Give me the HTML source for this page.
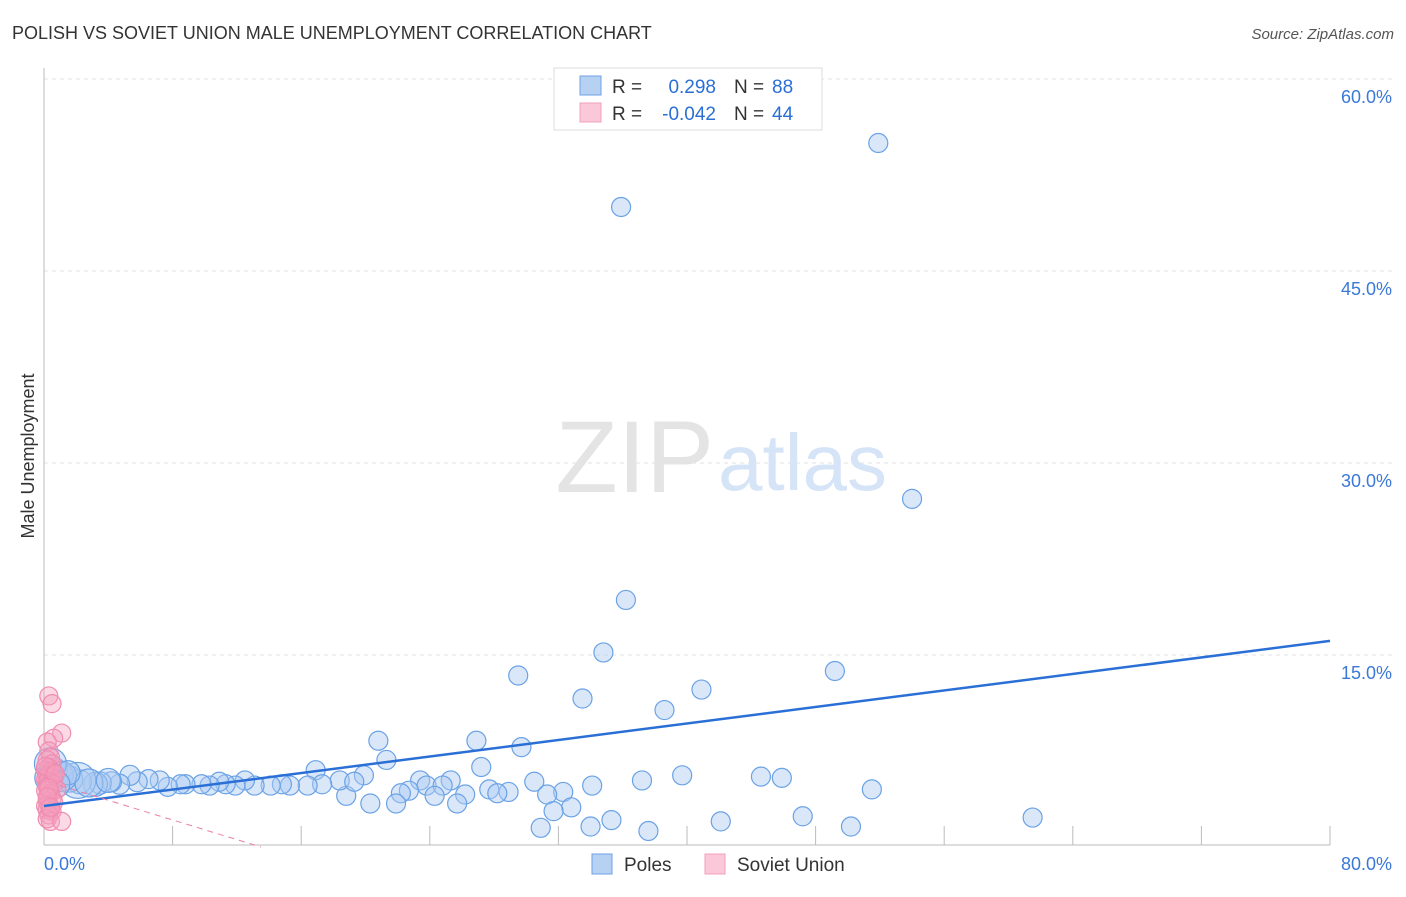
<!DOCTYPE html>
<html><head><meta charset="utf-8"><style>
body{margin:0;background:#fff;font-family:"Liberation Sans",sans-serif;}
svg text{font-family:"Liberation Sans",sans-serif;}
</style></head><body>
<svg width="1406" height="892" viewBox="0 0 1406 892">
<text x="12" y="39" font-size="18" fill="#333">POLISH VS SOVIET UNION MALE UNEMPLOYMENT CORRELATION CHART</text>
<text x="1394" y="39" font-size="15" fill="#555" text-anchor="end" font-style="italic">Source: ZipAtlas.com</text>
<g id="grid"></g>
<text x="714" y="492" font-size="102" fill="#e4e4e4" text-anchor="end" font-family="Liberation Serif">ZIP</text>
<text x="718" y="490" font-size="80" fill="#d6e4f7">atlas</text>
<g id="axes"></g>
<g id="pts"></g>
<g id="lines"></g>
<text transform="translate(34,456) rotate(-90)" font-size="18" fill="#333" text-anchor="middle">Male Unemployment</text>
<g>
<rect x="554" y="68" width="268" height="62" fill="#fff" stroke="#ddd"/>
<rect x="580" y="76" width="21" height="19" fill="#b7d1f3" stroke="#6fa2e4"/>
<rect x="580" y="103" width="21" height="19" fill="#fac8d8" stroke="#f0a0ba"/>
<text x="612" y="93" font-size="19" fill="#333">R =</text><text x="716" y="93" font-size="19" fill="#2a6fd6" text-anchor="end">0.298</text>
<text x="734" y="93" font-size="19" fill="#333">N =</text><text x="772" y="93" font-size="19" fill="#2a6fd6">88</text>
<text x="612" y="120" font-size="19" fill="#333">R =</text><text x="716" y="120" font-size="19" fill="#2a6fd6" text-anchor="end">-0.042</text>
<text x="734" y="120" font-size="19" fill="#333">N =</text><text x="772" y="120" font-size="19" fill="#2a6fd6">44</text>
</g>
<g>
<rect x="592" y="854" width="20" height="20" fill="#b7d1f3" stroke="#6fa2e4"/>
<text x="624" y="871" font-size="19" fill="#333">Poles</text>
<rect x="705" y="854" width="20" height="20" fill="#fac8d8" stroke="#f0a0ba"/>
<text x="737" y="871" font-size="19" fill="#333">Soviet Union</text>
</g>
</svg>
<script>
const yTicks=[15,30,45,60];
const yTickLabels=["15.0%","30.0%","45.0%","60.0%"];
const xTickLabels=["0.0%","80.0%"];
const polesX=[51.9,35.9,54.0,36.2,34.8,29.5,49.2,33.5,40.9,38.6,20.8,26.9,29.7,21.3,16.9,27.2,39.7,44.6,45.9,37.2,30.5,25.3,23.4,23.8,34.1,32.3,31.3,51.5,27.7,28.9,28.2,26.2,24.8,22.7,22.2,24.3,18.8,20.3,21.9,25.7,32.8,31.7,35.3,42.1,47.2,61.5,30.9,34.0,37.6,50.2,19.9,18.4,19.3,17.3,16.4,15.3,14.8,14.1,13.1,12.5,11.9,11.3,10.9,10.3,9.8,8.8,8.5,7.7,7.2,6.5,5.8,5.35,4.7,4.2,3.5,3.2,2.2,1.6,1.0,0.7,2.1,1.1,0.4,2.8,1.5,0.3,0.8,4.0];
const polesY=[55.0,50.0,27.2,19.3,15.2,13.4,13.75,11.6,12.3,10.7,8.3,8.3,7.8,6.8,6.0,6.25,5.6,5.5,5.4,5.2,5.1,5.2,5.2,4.8,4.8,4.3,4.1,4.5,4.5,4.3,4.2,4.1,4.8,4.4,4.2,4.0,4.0,3.4,3.4,3.4,3.1,2.8,2.1,2.0,2.4,2.3,1.5,1.6,1.25,1.6,5.6,5.2,5.1,4.9,4.8,4.8,4.9,4.8,4.8,5.2,4.8,4.9,5.1,4.8,4.9,4.9,4.9,4.7,5.2,5.3,5.1,5.6,4.9,5.1,5.0,4.9,5.1,5.3,5.6,6.0,5.2,5.5,6.5,5.0,5.8,5.4,4.9,5.2];
const polesR=[9.5,9.5,9.5,9.5,9.5,9.5,9.5,9.5,9.5,9.5,9.5,9.5,9.5,9.5,9.5,9.5,9.5,9.5,9.5,9.5,9.5,9.5,9.5,9.5,9.5,9.5,9.5,9.5,9.5,9.5,9.5,9.5,9.5,9.5,9.5,9.5,9.5,9.5,9.5,9.5,9.5,9.5,9.5,9.5,9.5,9.5,9.5,9.5,9.5,9.5,9.5,9.5,9.5,9.5,9.5,9.5,9.5,9.5,9.5,9.5,9.5,9.5,9.5,9.5,9.5,9.5,9.5,9.5,9.5,9.5,10,10,10,10,11,12,12,13,13,12,18,15,16,14,12,14,13,12];
const sovX=[0.3,0.5,1.1,0.6,0.2,0.3,0.4,0.2,0.5,0.3,0.1,0.4,0.6,0.2,0.3,0.5,0.1,0.3,0.2,0.4,0.6,0.3,0.2,0.8,0.1,0.4,0.3,0.5,0.2,0.6,0.3,0.1,0.4,0.2,0.5,0.3,0.2,0.4,0.1,0.7,0.3,0.2,1.1,0.4];
const sovY=[11.8,11.2,8.9,8.5,8.2,7.5,7.0,6.8,6.5,6.2,6.0,5.9,5.8,5.6,5.5,5.4,5.3,5.2,5.1,5.0,4.9,4.8,4.7,4.5,4.4,4.2,4.0,3.8,3.6,3.5,3.3,3.2,3.0,2.9,2.8,2.5,2.2,2.0,6.3,5.7,4.6,3.9,2.0,3.1];
const polesTrend=[3.2,16.1];
const sovTrend=[4.8,0.0];
const sovTrendX=[1.0,13.5];
const X0=44,X1=1330,Y0=847,Y60=79;
const xs=v=>X0+(X1-X0)*v/80;
const ys=v=>Y0-(Y0-Y60)*v/60;
const NS="http://www.w3.org/2000/svg";
function mk(t,a,p){const e=document.createElementNS(NS,t);for(const k in a)e.setAttribute(k,a[k]);p.appendChild(e);return e;}
const grid=document.getElementById('grid'),axes=document.getElementById('axes'),pts=document.getElementById('pts'),lines=document.getElementById('lines');
yTicks.forEach((v,i)=>{
 const l=mk('line',{x1:X0,x2:1392,y1:ys(v),y2:ys(v),stroke:'#e2e2e2','stroke-dasharray':'4,4'},grid);
 
 
 const t=mk('text',{x:1392,y:ys(v)+24,'font-size':18,fill:'#3a78d8','text-anchor':'end'},axes);
 t.textContent=yTickLabels[i];
 
 
});
const ya=mk('line',{x1:X0,x2:X0,y1:68,y2:845,stroke:'#bbb'},axes);


const xa=mk('line',{x1:X0,x2:X1,y1:845,y2:845,stroke:'#bbb'},axes);


for(let i=1;i<=10;i++){
 const tk=mk('line',{x1:xs(i*8),x2:xs(i*8),y1:826,y2:845,stroke:'#bbb'},axes);
 
 
}
const xl0=mk('text',{x:44,y:870,'font-size':18,fill:'#3a78d8'},axes);xl0.textContent=xTickLabels[0];


const xl1=mk('text',{x:1392,y:870,'font-size':18,fill:'#3a78d8','text-anchor':'end'},axes);xl1.textContent=xTickLabels[1];


polesX.forEach((x,i)=>{
 const c=mk('circle',{cx:xs(x),cy:ys(polesY[i]),r:polesR[i],fill:'rgba(170,202,242,0.45)',stroke:'#6aa2e6','stroke-width':1.2},pts);
 
 
});
sovX.forEach((x,i)=>{
 const c=mk('circle',{cx:xs(x),cy:ys(sovY[i]),r:9,fill:'rgba(246,160,190,0.4)',stroke:'#f08cb0','stroke-width':1.2},pts);
 
 
});
const pl=mk('line',{x1:xs(0),y1:ys(polesTrend[0]),x2:xs(80),y2:ys(polesTrend[1]),stroke:'#2a6fd6','stroke-width':2.5},lines);


const sl=mk('line',{x1:xs(sovTrendX[0]),y1:ys(sovTrend[0]),x2:xs(sovTrendX[1]),y2:ys(sovTrend[1]),stroke:'#ec7fa3','stroke-width':1,'stroke-dasharray':'6,5'},lines);


</script>
</body></html>
